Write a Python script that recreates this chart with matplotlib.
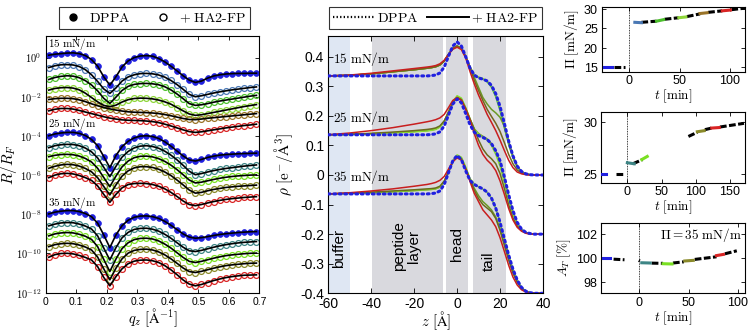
import numpy as np
import matplotlib
matplotlib.use("Agg")
import matplotlib.pyplot as plt
from matplotlib.lines import Line2D
from matplotlib.ticker import NullLocator

# -----------------------------
# Reflectivity data (log10 R/RF)
# -----------------------------
q = [0.01, 0.03, 0.05, 0.07, 0.09, 0.11, 0.13, 0.15, 0.17, 0.19, 0.21, 0.23,
     0.25, 0.27, 0.29, 0.31, 0.33, 0.35, 0.37, 0.39, 0.41, 0.43, 0.45, 0.47,
     0.49, 0.51, 0.53, 0.55, 0.57, 0.59, 0.61, 0.63, 0.65, 0.67, 0.69]

r15_dppa = [0.12, 0.17, 0.20, 0.23, 0.24, 0.20, 0.10, -0.10, -0.44, -0.98, -1.41, -0.98,
            -0.48, -0.17, 0.00, 0.08, 0.10, 0.07, -0.05, -0.22, -0.44, -0.68, -0.93, -1.15,
            -1.27, -1.20, -1.05, -0.94, -0.88, -0.84, -0.82, -0.81, -0.81, -0.80, -0.80]
r15_a = [-0.51, -0.42, -0.37, -0.36, -0.38, -0.46, -0.62, -0.88, -1.22, -1.60, -1.83, -1.55,
         -1.20, -0.99, -0.88, -0.82, -0.81, -0.83, -0.89, -1.00, -1.17, -1.38, -1.62, -1.88,
         -2.00, -1.95, -1.88, -1.81, -1.75, -1.70, -1.65, -1.61, -1.57, -1.53, -1.50]
r15_b = [-1.12, -1.02, -0.96, -0.93, -0.95, -1.03, -1.18, -1.40, -1.70, -2.08, -2.34, -2.02,
         -1.68, -1.47, -1.37, -1.33, -1.32, -1.34, -1.39, -1.49, -1.65, -1.86, -2.10, -2.35,
         -2.44, -2.41, -2.35, -2.28, -2.22, -2.17, -2.12, -2.07, -2.02, -1.97, -1.93]
r15_c = [-1.66, -1.58, -1.54, -1.53, -1.56, -1.65, -1.82, -2.04, -2.26, -2.44, -2.51, -2.43,
         -2.27, -2.15, -2.09, -2.07, -2.08, -2.11, -2.17, -2.26, -2.38, -2.55, -2.72, -2.88,
         -2.95, -2.92, -2.86, -2.80, -2.74, -2.68, -2.62, -2.56, -2.50, -2.45, -2.40]
r15_d = [-2.14, -2.10, -2.08, -2.08, -2.10, -2.16, -2.25, -2.36, -2.46, -2.55, -2.62, -2.68,
         -2.73, -2.77, -2.79, -2.80, -2.81, -2.83, -2.86, -2.91, -2.97, -3.04, -3.11, -3.16,
         -3.17, -3.14, -3.10, -3.07, -3.04, -3.01, -2.98, -2.95, -2.92, -2.89, -2.86]
r15_e = [-2.72, -2.64, -2.60, -2.60, -2.63, -2.70, -2.78, -2.86, -2.94, -3.02, -3.09, -3.14,
         -3.18, -3.20, -3.21, -3.22, -3.24, -3.27, -3.32, -3.40, -3.49, -3.59, -3.69, -3.78,
         -3.82, -3.79, -3.74, -3.69, -3.64, -3.59, -3.55, -3.51, -3.47, -3.44, -3.40]

r25_dppa = [-3.99, -3.90, -3.85, -3.82, -3.82, -3.87, -3.98, -4.18, -4.50, -5.05, -5.62, -5.00,
            -4.55, -4.27, -4.10, -4.01, -3.99, -4.03, -4.13, -4.30, -4.52, -4.77, -5.02, -5.22,
            -5.28, -5.20, -5.10, -5.03, -4.98, -4.95, -4.93, -4.91, -4.90, -4.89, -4.88]
r25_a = [-4.60, -4.50, -4.45, -4.43, -4.44, -4.50, -4.62, -4.81, -5.12, -5.60, -6.08, -5.55,
         -5.08, -4.79, -4.61, -4.52, -4.50, -4.54, -4.63, -4.78, -4.98, -5.22, -5.50, -5.80,
         -5.98, -5.92, -5.84, -5.77, -5.71, -5.66, -5.62, -5.58, -5.54, -5.51, -5.48]
r25_b = [-5.06, -4.99, -4.95, -4.94, -4.96, -5.03, -5.15, -5.33, -5.65, -6.12, -6.59, -6.05,
         -5.58, -5.28, -5.11, -5.04, -5.03, -5.07, -5.16, -5.30, -5.49, -5.72, -5.98, -6.25,
         -6.40, -6.36, -6.29, -6.22, -6.16, -6.11, -6.07, -6.04, -6.02, -6.00, -5.99]
r25_c = [-5.65, -5.55, -5.48, -5.45, -5.47, -5.54, -5.66, -5.83, -6.13, -6.58, -7.01, -6.50,
         -6.05, -5.78, -5.63, -5.57, -5.57, -5.61, -5.70, -5.84, -6.02, -6.25, -6.50, -6.76,
         -6.92, -6.88, -6.80, -6.73, -6.68, -6.63, -6.60, -6.57, -6.55, -6.53, -6.51]
r25_d = [-6.13, -6.00, -5.93, -5.91, -5.94, -6.02, -6.13, -6.27, -6.55, -6.98, -7.39, -6.98,
         -6.65, -6.48, -6.43, -6.42, -6.43, -6.48, -6.57, -6.70, -6.88, -7.09, -7.32, -7.50,
         -7.56, -7.50, -7.42, -7.35, -7.29, -7.24, -7.20, -7.17, -7.14, -7.12, -7.10]

r35_dppa = [-7.98, -7.89, -7.84, -7.81, -7.81, -7.86, -7.96, -8.12, -8.45, -9.05, -9.70, -9.05,
            -8.58, -8.30, -8.15, -8.09, -8.08, -8.12, -8.21, -8.36, -8.56, -8.78, -9.00, -9.16,
            -9.22, -9.19, -9.14, -9.08, -9.03, -8.99, -8.96, -8.93, -8.91, -8.89, -8.88]
r35_a = [-8.59, -8.50, -8.44, -8.42, -8.43, -8.50, -8.60, -8.75, -9.10, -9.72, -10.33, -9.70,
         -9.20, -8.92, -8.77, -8.72, -8.71, -8.76, -8.86, -9.02, -9.22, -9.45, -9.68, -9.86,
         -9.90, -9.84, -9.76, -9.68, -9.61, -9.55, -9.50, -9.46, -9.43, -9.41, -9.39]
r35_b = [-9.10, -9.00, -8.95, -8.93, -8.95, -9.02, -9.12, -9.28, -9.65, -10.30, -10.92, -10.28,
         -9.75, -9.45, -9.29, -9.23, -9.22, -9.26, -9.36, -9.52, -9.72, -9.96, -10.20, -10.40,
         -10.46, -10.40, -10.32, -10.24, -10.17, -10.11, -10.07, -10.04, -10.01, -9.99, -9.98]
r35_c = [-9.65, -9.55, -9.50, -9.48, -9.50, -9.57, -9.67, -9.82, -10.18, -10.78, -11.34, -10.75,
         -10.27, -9.98, -9.84, -9.79, -9.78, -9.82, -9.92, -10.07, -10.27, -10.50, -10.74, -10.92,
         -10.97, -10.91, -10.83, -10.75, -10.68, -10.62, -10.58, -10.55, -10.52, -10.50, -10.49]
r35_d = [-10.19, -10.06, -10.00, -9.99, -10.02, -10.10, -10.20, -10.33, -10.67, -11.22, -11.65, -11.18,
         -10.78, -10.52, -10.39, -10.34, -10.33, -10.37, -10.46, -10.62, -10.83, -11.08, -11.35, -11.56,
         -11.65, -11.58, -11.48, -11.38, -11.30, -11.23, -11.18, -11.14, -11.11, -11.10, -11.09]

# -----------------------------
# Electron density profiles
# -----------------------------
z = [-60, -50, -40, -30, -20, -14, -12, -10, -8, -6, -4, -2, 0, 2, 4, 6,
     8, 10, 12, 14, 16, 18, 20, 22, 24, 26, 28, 30, 32, 34, 36, 40]

rho15_dppa = [.335, .335, .335, .335, .335, .335, .336, .338, .345, .365, .402, .436, .450, .436, .400, .362,
              .338, .328, .324, .318, .303, .275, .232, .175, .115, .065, .030, .012, .004, .001, 0, 0]
rho15_front = [.335, .337, .342, .349, .356, .361, .363, .366, .372, .385, .408, .428, .436, .428, .400, .365]
rho15_front_red = [.335, .338, .344, .352, .360, .365, .367, .370, .376, .388, .408, .425, .432, .424, .396, .350]
rho15_tail_a = [.338, .330, .325, .315, .297, .265, .218, .160, .103, .058, .027, .010, .003, .001, 0, 0]
rho15_tail_b = [.340, .331, .326, .318, .301, .271, .226, .168, .110, .062, .029, .011, .004, .001, 0, 0]
rho15_tail_c = [.330, .296, .262, .240, .222, .210, .195, .165, .115, .065, .030, .012, .004, .001, 0, 0]
rho15_tail_d = [.320, .285, .252, .222, .198, .175, .147, .110, .070, .038, .017, .006, .002, .001, 0, 0]
rho15_tail_e = [.308, .270, .238, .205, .178, .150, .118, .083, .050, .025, .010, .004, .001, 0, 0, 0]

rho25_dppa = [.136, .136, .136, .136, .136, .136, .137, .139, .146, .166, .203, .240, .257, .244, .208, .170,
              .145, .133, .127, .120, .106, .082, .048, -.006, -.066, -.120, -.160, -.183, -.194, -.198, -.200, -.200]
rho25_a = [.136, .137, .140, .143, .147, .150, .152, .155, .163, .181, .212, .245, .263, .256, .225, .188,
           .156, .140, .131, .122, .106, .079, .040, -.015, -.075, -.126, -.163, -.184, -.194, -.199, -.200, -.200]
rho25_b = [.136, .137, .139, .142, .146, .149, .151, .154, .162, .180, .213, .248, .268, .260, .228, .190,
           .155, .138, .128, .118, .100, .070, .030, -.025, -.083, -.132, -.166, -.186, -.195, -.199, -.200, -.200]
rho25_c = [.136, .138, .141, .145, .150, .154, .156, .159, .166, .183, .213, .245, .262, .255, .225, .190,
           .155, .118, .088, .068, .055, .038, .005, -.045, -.100, -.145, -.173, -.188, -.196, -.199, -.200, -.200]
rho25_d = [.136, .142, .150, .160, .172, .180, .183, .187, .193, .205, .228, .252, .262, .252, .222, .185,
           .140, .100, .070, .050, .036, .015, -.020, -.065, -.113, -.152, -.177, -.190, -.197, -.200, -.200, -.200]

rho35_dppa = [-.064, -.064, -.064, -.064, -.064, -.064, -.063, -.061, -.054, -.032, .008, .048, .066, .052, .014, -.018,
              -.032, -.040, -.047, -.058, -.078, -.112, -.160, -.215, -.270, -.318, -.355, -.380, -.393, -.398, -.400, -.400]
rho35_a = [-.064, -.062, -.060, -.057, -.053, -.050, -.049, -.047, -.041, -.023, .010, .045, .064, .057, .024, -.015,
           -.045, -.070, -.090, -.103, -.118, -.142, -.182, -.232, -.283, -.328, -.361, -.382, -.393, -.398, -.400, -.400]
rho35_b = [-.064, -.062, -.059, -.056, -.052, -.049, -.048, -.046, -.040, -.022, .012, .048, .068, .060, .027, -.012,
           -.030, -.040, -.048, -.059, -.079, -.113, -.161, -.216, -.270, -.318, -.355, -.380, -.393, -.398, -.400, -.400]
rho35_c = [-.064, -.062, -.058, -.054, -.050, -.047, -.046, -.044, -.038, -.020, .012, .045, .062, .055, .022, -.016,
           -.052, -.080, -.100, -.112, -.124, -.147, -.187, -.237, -.287, -.331, -.363, -.383, -.394, -.398, -.400, -.400]
rho35_d = [-.064, -.060, -.054, -.047, -.038, -.032, -.029, -.025, -.018, -.005, .020, .045, .058, .050, .020, -.022,
           -.062, -.090, -.118, -.135, -.152, -.175, -.212, -.258, -.305, -.345, -.372, -.388, -.396, -.399, -.400, -.400]

# -----------------------------
# Surface pressure / area time series (segments: t range, value range, colour)
# -----------------------------
pi15_t = [(-25, -17), (-15, -4), (5.5, 12), (12, 27), (27, 34), (35, 49), (49, 56),
          (57, 70), (70, 77), (78, 92), (92, 100), (101, 114.5)]
pi15_v = [(15, 15), (15, 15), (26.6, 26.5), (26.6, 26.9), (26.9, 27.3), (27.4, 27.8), (27.8, 28.0),
          (28.1, 28.8), (28.9, 29.1), (29.2, 29.6), (29.6, 29.8), (29.9, 30.3)]
pi15_c = ["dppa", "k", "c15a", "k", "c15b", "k", "c15c", "k", "c15d", "k", "c15e", "k"]

pi25_t = [(-38, -31), (-17, -5), (0, 10), (8, 22), (21, 29), (89, 102), (102, 112),
          (113, 123), (123, 134), (135, 170)]
pi25_v = [(25, 25), (25, 25), (26.1, 26.0), (26.0, 26.4), (26.4, 26.7), (28.6, 29.0), (29.05, 29.15),
          (29.25, 29.4), (29.4, 29.45), (29.5, 29.85)]
pi25_c = ["dppa", "k", "ca", "k", "cb", "k", "cc", "k", "cd", "k"]

at35_t = [(-37, -30), (-26, -15), (-0.5, 0.5), (2.5, 11), (12.5, 24), (24, 33), (34, 45),
          (46, 54.5), (56, 78), (78, 85), (86.5, 98.5)]
at35_v = [(100.0, 100.0), (99.9, 99.85), (99.8, 99.75), (99.6, 99.58), (99.57, 99.55), (99.52, 99.5),
          (99.58, 99.68), (99.75, 99.8), (99.88, 100.1), (100.2, 100.3), (100.35, 100.6)]
at35_c = ["dppa", "k", "k", "ca", "k", "cb", "k", "cc", "k", "cd", "k"]

# -----------------------------
# Styling
# -----------------------------
plt.rcParams["font.family"] = "serif"
plt.rcParams["font.serif"] = ["cmr10", "DejaVu Serif"]
plt.rcParams["mathtext.fontset"] = "cm"
plt.rcParams["axes.unicode_minus"] = False
plt.rcParams["axes.formatter.use_mathtext"] = True
plt.rcParams["xtick.direction"] = "in"
plt.rcParams["ytick.direction"] = "in"
plt.rcParams["xtick.top"] = True
plt.rcParams["ytick.right"] = True
plt.rcParams["axes.linewidth"] = 0.8

COL = {"dppa": "#2020e0", "k": "black",
       "c15a": "#4a78b4", "c15b": "#4cbf2c", "c15c": "#8ed63a", "c15d": "#9a7428", "c15e": "#d92424",
       "ca": "#3d8585", "cb": "#7ae022", "cc": "#8a8a2a", "cd": "#d92424"}
MID = {"c15a": "#3cae32", "c15b": "#8fdc34", "c15c": "#6b9a26", "c15d": "#746520", "c15e": "#c81e1e",
       "ca": "#6a9a26", "cb": "#88dd30", "cc": "#6b6b1e", "cd": "#c81e1e"}
SANS = "Liberation Sans"

fig = plt.figure(figsize=(7.48, 3.32), dpi=100)
axL = fig.add_axes([0.0611, 0.1184, 0.2858, 0.7732])
axM = fig.add_axes([0.4389, 0.1166, 0.2870, 0.7750])
axT1 = fig.add_axes([0.8044, 0.7840, 0.1916, 0.1949])
axT2 = fig.add_axes([0.8035, 0.4497, 0.1925, 0.2130])
axT3 = fig.add_axes([0.8035, 0.1166, 0.1925, 0.2127])

# -----------------------------
# Left: reflectivity
# -----------------------------
curves = [(r15_dppa, "dppa"), (r15_a, "c15a"), (r15_b, "c15b"), (r15_c, "c15c"), (r15_d, "c15d"), (r15_e, "c15e"),
          (r25_dppa, "dppa"), (r25_a, "ca"), (r25_b, "cb"), (r25_c, "cc"), (r25_d, "cd"),
          (r35_dppa, "dppa"), (r35_a, "ca"), (r35_b, "cb"), (r35_c, "cc"), (r35_d, "cd")]
qa = np.array(q)
for vals, key in curves:
    R = 10 ** np.array(vals)
    if key == "dppa":
        axL.plot(qa, R, "o", ms=4.2, mfc=COL[key], mec=COL[key], mew=0.5, zorder=2)
    else:
        axL.plot(qa, R, "o", ms=4.2, mfc="none", mec=COL[key], mew=0.9, zorder=2)
for vals, key in curves:
    axL.plot(qa, 10 ** np.array(vals), "-", color="black", lw=1.2, zorder=3)

axL.set_yscale("log")
axL.set_xlim(0, 0.7)
axL.set_ylim(1e-12, 10 ** 1.1)
axL.set_yticks([10.0 ** k for k in range(-12, 1, 2)])
axL.set_yticklabels([r"$\mathsf{10^{%d}}$" % k for k in range(-12, 1, 2)], fontsize=7.5)
axL.yaxis.set_minor_locator(NullLocator())
axL.set_xticks([0, 0.1, 0.2, 0.3, 0.4, 0.5, 0.6, 0.7])
axL.set_xticklabels(["0", "0.1", "0.2", "0.3", "0.4", "0.5", "0.6", "0.7"], fontsize=7.5, fontfamily=SANS)
axL.tick_params(length=3, width=0.6, pad=3)
axL.set_xlabel(r"$q_z\ [\mathrm{\AA}^{-1}]$", fontsize=10.5)
axL.xaxis.set_label_coords(0.5, -0.055)
axL.set_ylabel(r"$R/R_F$", fontsize=11)
axL.yaxis.set_label_coords(-0.125, 0.5)
for lab, lv in [("15", 0.68), ("25", -3.40), ("35", -7.41)]:
    axL.text(0.008, 10 ** lv, r"$\mathrm{%s\ mN/m}$" % lab, fontsize=8, va="center")

hL = [Line2D([], [], ls="none", marker="o", ms=5, mfc="black", mec="black"),
      Line2D([], [], ls="none", marker="o", ms=5, mfc="none", mec="black")]
legL = fig.legend(hL, [r"$\mathrm{DPPA}$", r"$+\ \mathrm{HA2}$-$\mathrm{FP}$"], ncol=2, loc="center",
                  bbox_to_anchor=(154.5 / 748, 1 - 18 / 332), fontsize=10, frameon=True, fancybox=False,
                  edgecolor="black", handletextpad=0.4, columnspacing=1.6, borderpad=0.3, handlelength=1.5)
legL.get_frame().set_linewidth(0.8)

# -----------------------------
# Middle: electron density profiles
# -----------------------------
axM.axvspan(-60, -50, color="#dfe7f3", lw=0, zorder=0)
for a, b in [(-39.8, -6.7), (-5.1, 5.0), (7.3, 22.8)]:
    axM.axvspan(a, b, color="#d9d9de", lw=0, zorder=0)

ha15 = [(rho15_front + rho15_tail_a, "c15a"), (rho15_front + rho15_tail_b, "c15b"),
        (rho15_front + rho15_tail_c, "c15c"), (rho15_front + rho15_tail_d, "c15d"),
        (rho15_front_red + rho15_tail_e, "c15e")]
ha25 = [(rho25_a, "ca"), (rho25_b, "cb"), (rho25_c, "cc"), (rho25_d, "cd")]
ha35 = [(rho35_a, "ca"), (rho35_b, "cb"), (rho35_c, "cc"), (rho35_d, "cd")]
for vals, key in ha15 + ha25 + ha35:
    axM.plot(z, vals, "-", color=MID[key], lw=1.1, zorder=2)
for vals in [rho15_dppa, rho25_dppa, rho35_dppa]:
    axM.plot(z, vals, ls=(0, (0.6, 1.2)), color=COL["dppa"], lw=2.2, dash_capstyle="round", zorder=3)

axM.set_xlim(-60, 40)
axM.set_ylim(-0.4, 0.47)
axM.set_xticks([-60, -40, -20, 0, 20, 40])
axM.set_xticklabels(["-60", "-40", "-20", "0", "20", "40"], fontsize=10, fontfamily=SANS)
axM.set_yticks([-0.4, -0.3, -0.2, -0.1, 0, 0.1, 0.2, 0.3, 0.4])
axM.set_yticklabels(["-0.4", "-0.3", "-0.2", "-0.1", "0", "0.1", "0.2", "0.3", "0.4"], fontsize=10, fontfamily=SANS)
axM.tick_params(length=3.5, width=0.6, pad=3)
axM.set_xlabel(r"$z\ [\mathrm{\AA}]$", fontsize=10.5)
axM.xaxis.set_label_coords(0.5, -0.062)
axM.set_ylabel(r"$\rho\ [\mathrm{e}^{-}/\mathrm{\AA}^{3}]$", fontsize=11)
axM.yaxis.set_label_coords(-0.155, 0.5)
for lab, lv in [("15", 0.391), ("25", 0.192), ("35", -0.006)]:
    axM.text(-58, lv, r"$\mathrm{%s\ mN/m}$" % lab, fontsize=9.5, va="center", zorder=4)
axM.text(-55, -0.25, "buffer", rotation=90, ha="center", va="center", fontsize=11, fontfamily=SANS)
axM.text(-23.5, -0.24, "peptide\nlayer", rotation=90, ha="center", va="center", fontsize=11,
         fontfamily=SANS, multialignment="center", linespacing=1.1)
axM.text(0, -0.232, "head", rotation=90, ha="center", va="center", fontsize=11, fontfamily=SANS)
axM.text(15, -0.29, "tail", rotation=90, ha="center", va="center", fontsize=11, fontfamily=SANS)

hM = [Line2D([], [], ls=(0, (0.6, 1.0)), lw=1.6, color="black"), Line2D([], [], ls="-", lw=1.4, color="black")]
legM = fig.legend(hM, [r"$\mathrm{DPPA}$", r"$+\ \mathrm{HA2}$-$\mathrm{FP}$"], ncol=2, loc="center",
                  bbox_to_anchor=(435.5 / 748, 1 - 18 / 332), fontsize=10, frameon=True, fancybox=False,
                  edgecolor="black", handletextpad=0.2, columnspacing=0.6, borderpad=0.3, handlelength=3.0)
legM.get_frame().set_linewidth(0.8)

# -----------------------------
# Right: time series
# -----------------------------
def draw_segments(ax, ts, vs, cs):
    for (t0, t1), (v0, v1), c in zip(ts, vs, cs):
        if c == "k":
            ax.plot([t0, t1], [v0, v1], color="black", lw=2.2, ls=(0, (2.2, 0.8)), zorder=2)
        else:
            ax.plot([t0, t1], [v0, v1], color=COL[c], lw=2.2, zorder=3)
    ax.axvline(0, color="black", lw=0.6, ls=(0, (1, 1)), zorder=1)
    ax.tick_params(length=3, width=0.6, pad=2, labelsize=9)
    for lab in ax.get_xticklabels() + ax.get_yticklabels():
        lab.set_fontfamily(SANS)

axT1.set_xlim(-27.3, 114.5)
axT1.set_ylim(13.7, 30.6)
axT1.set_xticks([0, 50, 100])
axT1.set_yticks([15, 20, 25, 30])
draw_segments(axT1, pi15_t, pi15_v, pi15_c)
axT1.set_ylabel(r"$\Pi\ [\mathrm{mN/m}]$", fontsize=9.5, labelpad=2)
axT1.set_xlabel(r"$t\ [\mathrm{min}]$", fontsize=9.5, labelpad=0)

axT2.set_xlim(-38.4, 171.5)
axT2.set_ylim(24.2, 30.93)
axT2.set_xticks([0, 50, 100, 150])
axT2.set_yticks([25, 30])
draw_segments(axT2, pi25_t, pi25_v, pi25_c)
axT2.set_ylabel(r"$\Pi\ [\mathrm{mN/m}]$", fontsize=9.5, labelpad=2)
axT2.set_xlabel(r"$t\ [\mathrm{min}]$", fontsize=9.5, labelpad=0)

axT3.set_xlim(-38.7, 106.8)
axT3.set_ylim(97.05, 102.95)
axT3.set_xticks([0, 50, 100])
axT3.set_yticks([98, 100, 102])
draw_segments(axT3, at35_t, at35_v, at35_c)
axT3.set_ylabel(r"$A_T\ [\%]$", fontsize=9.5, labelpad=2)
axT3.set_xlabel(r"$t\ [\mathrm{min}]$", fontsize=9.5, labelpad=0)
axT3.text(0.98, 0.83, r"$\Pi = 35\ \mathrm{mN/m}$", transform=axT3.transAxes, ha="right", va="center", fontsize=9.5)

fig.savefig("out.png", dpi=100)
